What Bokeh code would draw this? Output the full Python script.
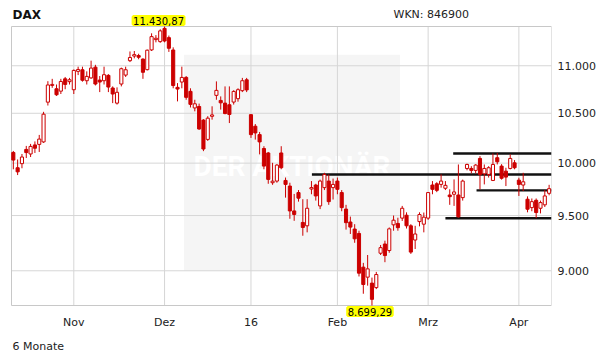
import numpy as np
from bokeh.plotting import figure
from bokeh.models import Range1d, FixedTicker, Label, BoxAnnotation, Title
from bokeh.embed import file_html
from bokeh.resources import INLINE

# ---- data: DAX daily candles (index = trading day) ----
opens = [10105, 9955, 9995, 10135, 10090, 10180, 10185, 10210, 10615, 10790,
         10755, 10730, 10860, 10830, 10745, 10940, 10957, 10840, 10870, 10985,
         10847, 10840, 10897, 10763, 10605, 10805, 10900, 11055, 11105, 11110,
         11072, 10958, 11172, 11285, 11263, 11410, 11307, 11171, 10770, 10826,
         10875, 10728, 10555, 10570, 10430, 10235, 10469, 10686, 10633, 10605,
         10588, 10616, 10651, 10735, 10850, 10486, 10368, 10283, 10144, 10100,
         9810, 9826, 10100, 9832, 9778, 9543, 9716, 9436, 9405, 9750,
         9788, 9590, 9763, 9826, 9763, 9826, 9716, 9560, 9440, 9375,
         9335, 9032, 8944, 8892, 8853, 9156, 9239, 9180, 9414, 9427,
         9476, 9503, 9405, 9275, 9444, 9420, 9476, 9788, 9800, 9794,
         9757, 9693, 9700, 9693, 9668, 9948, 9948, 9929, 10046, 9896,
         9890, 9832, 10053, 9971, 9922, 9948, 10003, 9835, 9788, 9653,
         9574, 9643, 9568, 9600, 9709]
highs = [10120, 10036, 10090, 10170, 10190, 10215, 10280, 10515, 10835, 10860,
         10800, 10860, 10880, 10870, 10960, 10990, 10990, 10940, 11055, 11010,
         10890, 10990, 10910, 10780, 10770, 10980, 10990, 11155, 11160, 11130,
         11080, 11175, 11355, 11335, 11400, 11430.87, 11330, 11200, 10815, 10990,
         10890, 10760, 10640, 10600, 10440, 10470, 10572, 10833, 10675, 10780,
         10780, 10740, 10760, 10870, 10870, 10490, 10390, 10310, 10167, 10110,
         10003, 9990, 10167, 9860, 9810, 9703, 9740, 9653, 9653, 9826,
         9800, 9840, 9906, 9890, 9850, 9860, 9740, 9600, 9490, 9420,
         9360, 9070, 9140, 8940, 8990, 9230, 9269, 9390, 9500, 9480,
         9590, 9530, 9420, 9405, 9530, 9528, 9720, 9826, 9815, 9890,
         9826, 9747, 9842, 9987, 9840, 9995, 9970, 9990, 10069, 9987,
         9970, 10095, 10100, 9990, 9955, 10086, 10030, 9858, 9906, 9680,
         9660, 9660, 9640, 9740, 9790]
lows = [9940, 9884, 9950, 10050, 10060, 10100, 10110, 10200, 10580, 10765,
        10680, 10700, 10750, 10800, 10700, 10900, 10830, 10800, 10860, 10790,
        10720, 10800, 10720, 10605, 10590, 10780, 10880, 11040, 11080, 11070,
        10860, 10950, 11160, 11255, 11250, 11255, 11150, 10760, 10623, 10760,
        10640, 10560, 10520, 10331, 10118, 10220, 10435, 10640, 10538, 10490,
        10400, 10590, 10620, 10720, 10720, 10250, 10233, 10086, 9940, 9800,
        9790, 9810, 9940, 9668, 9470, 9451, 9630, 9314, 9345, 9700,
        9640, 9560, 9740, 9600, 9650, 9700, 9540, 9370, 9330, 9250,
        8950, 8800, 8870, 8699.29, 8840, 9140, 9076, 9160, 9360, 9360,
        9450, 9380, 9150, 9194, 9400, 9345, 9460, 9700, 9720, 9763,
        9740, 9600, 9590, 9480, 9640, 9930, 9900, 9900, 9747, 9794,
        9860, 9826, 9987, 9840, 9778, 9939, 9940, 9684, 9731, 9530,
        9540, 9476, 9520, 9580, 9690]
closes = [10030, 9915, 10060, 10104, 10165, 10147, 10238, 10491, 10795, 10801,
          10692, 10832, 10801, 10850, 10950, 10960, 10845, 10886, 10975, 10805,
          10826, 10904, 10773, 10700, 10718, 10968, 10957, 11089, 11120, 11092,
          10930, 11169, 11318, 11300, 11382, 11270, 11190, 10789, 10752, 10875,
          10665, 10592, 10598, 10340, 10139, 10450, 10483, 10738, 10608, 10497,
          10488, 10727, 10745, 10840, 10743, 10283, 10300, 10210, 9971, 9842,
          9825, 9981, 9955, 9794, 9543, 9510, 9663, 9390, 9568, 9763,
          9684, 9826, 9890, 9630, 9794, 9747, 9574, 9434, 9393, 9286,
          8979, 8880, 9017, 8752, 8967, 9206, 9135, 9377, 9457, 9388,
          9568, 9405, 9166, 9330, 9509, 9485, 9716, 9747, 9737, 9826,
          9785, 9677, 9722, 9488, 9826, 9987, 9929, 9981, 9890, 9948,
          9955, 9987, 10013, 9853, 9864, 10046, 9955, 9794, 9819, 9559,
          9630, 9528, 9621, 9684, 9753]

month_tick_idx = [14, 35, 55, 75, 96, 117]
month_labels = ["Nov", "Dez", "16", "Feb", "Mrz", "Apr"]
y_ticks = [9000, 9500, 10000, 10500, 11000]
y_tick_labels = ["9.000", "9.500", "10.000", "10.500", "11.000"]

# support / resistance lines drawn on the chart
level_values = [10095, 9890, 9737, 9475]
level_start_idx = [101.8, 69.1, 107.2, 100.0]

RED = "#cc0000"
FONT = "DejaVu Sans"
GRID = "#d6d6d6"

o = np.array(opens, float)
h = np.array(highs, float)
l = np.array(lows, float)
c = np.array(closes, float)
n = len(c)
idx = np.arange(n)
up = c >= o

# ---- geometry: inner chart box inside a larger frame (so texts are not clipped) ----
W, H = 611, 364
FRAME_R, FRAME_B = 551, 317          # frame spans x 0..551, y 0..317
IN_L, IN_T, IN_B = 11, 26, 305       # inner chart box edges (pixels)
xa, xb = -0.42, n - 1 + 0.55
ymin, ymax = l.min(), h.max()
s = (FRAME_R - IN_L) / (xb - xa)
x_lo = xa - IN_L / s
k = (np.log(ymax) - np.log(ymin)) / (IN_B - IN_T)
y_top = float(np.exp(np.log(ymax) + IN_T * k))
y_bot = float(np.exp(np.log(ymin) - (FRAME_B - IN_B) * k))

p = figure(width=W, height=H, y_axis_type="log", y_axis_location="right",
           x_range=Range1d(x_lo, xb), y_range=Range1d(y_bot, y_top),
           output_backend="svg", toolbar_location=None,
           min_border_left=0, min_border_top=0,
           min_border_right=W - FRAME_R, min_border_bottom=H - FRAME_B)
p.background_fill_color = "white"
p.border_fill_color = "white"
p.outline_line_color = None
p.xgrid.visible = False
p.ygrid.visible = False

# watermark box (behind grid)
p.add_layout(BoxAnnotation(left=39.5, right=89.5, bottom=9000, top=11120,
                           fill_color="#f5f5f5", fill_alpha=1.0, line_color=None, level="image"))
p.add_layout(Label(x=64.5, y=9970, text="DER AKTIONÄR", text_align="center", text_baseline="middle",
                   text_font="Roboto", text_font_style="bold", text_font_size="28px",
                   text_color="#ffffff", level="image"))

# grid lines + box outline
p.segment(x0=month_tick_idx, x1=month_tick_idx, y0=[ymin] * len(month_tick_idx), y1=[ymax] * len(month_tick_idx),
          line_color=GRID, line_width=1)
p.segment(x0=[xa] * len(y_ticks), x1=[xb] * len(y_ticks), y0=y_ticks, y1=y_ticks,
          line_color=GRID, line_width=1)
p.quad(left=[xa], right=[xb], bottom=[ymin], top=[ymax], fill_color=None, line_color="#c8c8c8", line_width=1)

# axes
xa_ax = p.xaxis[0]
xa_ax.ticker = FixedTicker(ticks=month_tick_idx)
xa_ax.major_label_overrides = {t: s_ for t, s_ in zip(month_tick_idx, month_labels)}
ya_ax = p.yaxis[0]
ya_ax.ticker = FixedTicker(ticks=y_ticks)
ya_ax.major_label_overrides = {t: s_ for t, s_ in zip(y_ticks, y_tick_labels)}
for ax in (xa_ax, ya_ax):
    ax.axis_line_color = None
    ax.major_tick_line_color = None
    ax.minor_tick_line_color = None
    ax.major_tick_out = 0
    ax.major_tick_in = 0
    ax.major_label_text_font = FONT
    ax.major_label_text_font_size = "11px"
    ax.major_label_text_color = "#222222"
xa_ax.major_label_standoff = -2
ya_ax.major_label_standoff = 6

p.add_layout(Title(text="6 Monate", align="left", offset=12, standoff=12, text_font=FONT,
                   text_font_size="11px", text_font_style="normal", text_color="#222222"), "below")

# support lines
p.segment(x0=level_start_idx, x1=[xb] * len(level_values), y0=level_values, y1=level_values,
          line_color="#111111", line_width=2.4)

# candles
p.segment(x0=idx, x1=idx, y0=l, y1=h, line_color=RED, line_width=1)
p.vbar(x=idx[up], width=0.72, top=c[up], bottom=o[up], fill_color="white", line_color=RED, line_width=1)
p.vbar(x=idx[~up], width=0.72, top=o[~up], bottom=c[~up], fill_color=RED, line_color=RED, line_width=1)


def de_fmt(v):
    return f"{v:,.2f}".replace(",", "X").replace(".", ",").replace("X", ".")


imax = int(np.argmax(h))
imin = int(np.argmin(l))
p.add_layout(Label(x=imax, y=h[imax], text=de_fmt(h[imax]), x_offset=-6, y_offset=2,
                   text_align="center", text_baseline="bottom", text_font=FONT, text_font_size="10px",
                   text_color="black", background_fill_color="#ffff00",
                   border_line_color="#ffff00", border_line_width=3))
p.add_layout(Label(x=imin, y=l[imin], text=de_fmt(l[imin]), x_offset=-2, y_offset=-2,
                   text_align="center", text_baseline="top", text_font=FONT, text_font_size="10px",
                   text_color="black", background_fill_color="#ffff00",
                   border_line_color="#ffff00", border_line_width=3))

# header texts (screen units from the frame's bottom-left corner)
p.add_layout(Label(x=12, y=FRAME_B - 14, x_units="screen", y_units="screen", text="DAX", text_baseline="middle",
                   text_font=FONT, text_font_style="bold", text_font_size="12px", text_color="#111111"))
p.add_layout(Label(x=393, y=FRAME_B - 14, x_units="screen", y_units="screen", text="WKN: 846900",
                   text_baseline="middle", text_font=FONT, text_font_size="11px", text_color="#222222"))

open("out.html", "w").write(file_html(p, INLINE))
